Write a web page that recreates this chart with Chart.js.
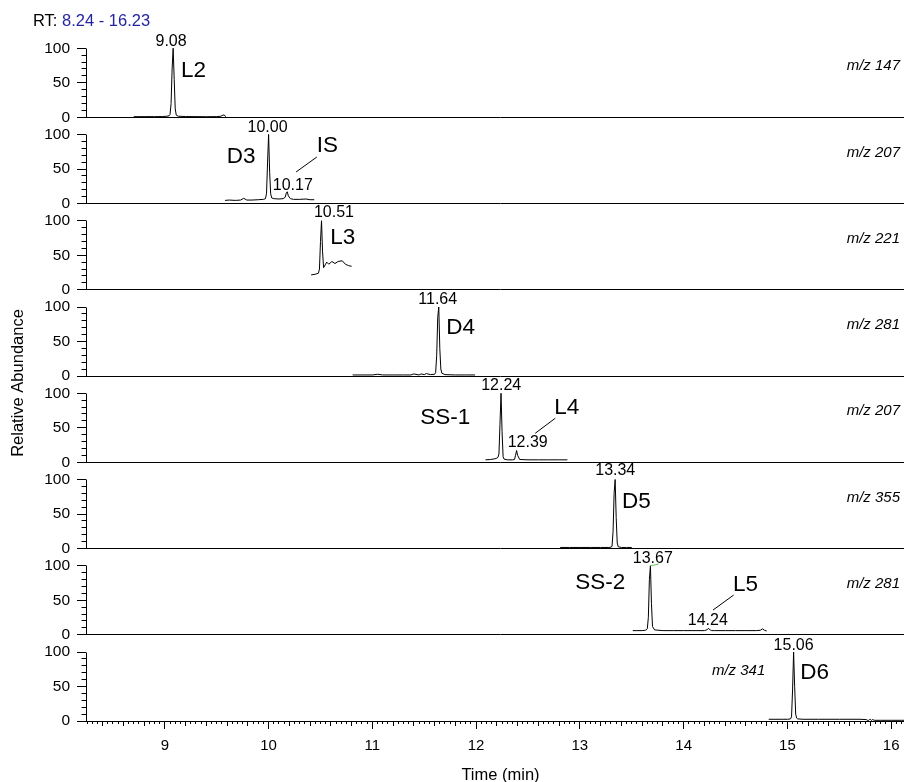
<!DOCTYPE html>
<html>
<head>
<meta charset="utf-8">
<title>Chromatogram</title>
<script src="https://cdn.jsdelivr.net/npm/chart.js@4.4.0/dist/chart.umd.min.js"></script>
<style>
  html, body { margin: 0; padding: 0; background: #fff; overflow: hidden; }
  #wrap { position: relative; width: 915px; height: 782px; }
</style>
</head>
<body>
<div id="wrap"><canvas id="chrom"></canvas></div>
<script>
// retention time window and axis ticks
const rtRange = [8.24, 16.23];
const timeTicks = [9, 10, 11, 12, 13, 14, 15, 16];
const abundanceTicks = [0, 50, 100];
const ions = ["m/z 147", "m/z 207", "m/z 221", "m/z 281", "m/z 207", "m/z 355", "m/z 281", "m/z 341"];

// one trace per ion window (time in min, relative abundance %)
const time147 = [8.70, 8.80, 8.90, 8.98, 9.02, 9.04, 9.05, 9.06, 9.07, 9.08, 9.09, 9.10, 9.11, 9.13, 9.20, 9.30, 9.40, 9.50, 9.54, 9.56, 9.57, 9.58, 9.59];
const abund147 = [0.8, 0.9, 0.9, 1.0, 1.5, 2.0, 4, 20, 70, 100, 55, 12, 3, 1.5, 1.0, 0.9, 0.8, 0.9, 1.5, 3.0, 3.5, 2, 0.8];

const time207a = [9.58, 9.62, 9.68, 9.73, 9.76, 9.79, 9.84, 9.90, 9.95, 9.97, 9.98, 9.99, 10.00, 10.01, 10.02, 10.03, 10.05, 10.10, 10.14, 10.16, 10.17, 10.18, 10.19, 10.21, 10.24, 10.30, 10.36, 10.40, 10.44];
const abund207a = [4.5, 5, 4.5, 5, 7.5, 5, 5, 5.5, 6, 7, 15, 60, 100, 45, 14, 8, 7, 6.5, 7, 9, 15, 17, 11, 7, 6, 6, 6.5, 5.5, 5.5];

const time221 = [10.41, 10.45, 10.48, 10.49, 10.50, 10.51, 10.52, 10.53, 10.545, 10.56, 10.58, 10.61, 10.64, 10.67, 10.71, 10.74, 10.77, 10.80];
const abund221 = [21.5, 22.5, 24, 30, 70, 100, 55, 32, 36, 40, 37, 41, 38, 41, 42, 37, 35, 34];

const time281a = [10.81, 10.90, 11.00, 11.05, 11.10, 11.20, 11.30, 11.37, 11.40, 11.45, 11.47, 11.50, 11.52, 11.56, 11.60, 11.61, 11.62, 11.63, 11.64, 11.65, 11.66, 11.67, 11.70, 11.80, 11.90, 11.99];
const abund281a = [1.5, 1.5, 1.5, 2.5, 1.5, 1.5, 1.5, 1.5, 3, 1.5, 3, 2, 3.5, 2, 2.5, 5, 30, 85, 100, 40, 10, 4, 2, 1.5, 1.5, 1.5];

const time207b = [12.09, 12.14, 12.18, 12.20, 12.21, 12.22, 12.23, 12.24, 12.25, 12.26, 12.27, 12.30, 12.35, 12.37, 12.38, 12.39, 12.40, 12.42, 12.50, 12.60, 12.70, 12.80, 12.88];
const abund207b = [3.5, 4, 5, 6, 7, 12, 55, 100, 45, 8, 4.5, 3.5, 3.5, 4, 10, 17, 10, 4, 3.5, 3.5, 3.5, 3.5, 3.5];

const time355 = [12.81, 12.90, 13.00, 13.10, 13.20, 13.28, 13.30, 13.31, 13.32, 13.33, 13.34, 13.35, 13.36, 13.37, 13.40, 13.45, 13.50];
const abund355 = [1.5, 1.5, 1.5, 1.5, 1.5, 1.5, 2, 3, 25, 80, 100, 45, 8, 2.5, 1.5, 1.5, 1.5];

const time281b = [13.51, 13.55, 13.60, 13.63, 13.64, 13.65, 13.66, 13.67, 13.68, 13.69, 13.70, 13.72, 13.80, 13.90, 14.00, 14.10, 14.20, 14.23, 14.24, 14.25, 14.27, 14.30, 14.40, 14.50, 14.60, 14.70, 14.74, 14.76, 14.78, 14.80];
const abund281b = [6, 6, 6, 6.5, 7, 9, 25, 80, 100, 45, 12, 7, 6, 6, 6, 6, 6, 7.5, 9.5, 7.5, 6, 6, 6, 6, 6, 6, 6.5, 8.5, 6.5, 5.5];

const time341 = [14.82, 14.90, 14.95, 15.00, 15.03, 15.04, 15.05, 15.06, 15.07, 15.08, 15.09, 15.10, 15.15, 15.30, 15.50, 15.70, 15.76, 15.78, 15.79, 15.80, 15.81, 15.82, 15.84, 15.90, 16.00, 16.10, 16.20, 16.23];
const abund341 = [2.5, 2.5, 2.5, 2.5, 3, 6, 45, 100, 50, 10, 4, 3, 2.5, 2.5, 2.5, 2.5, 2, 0.5, 2, 2.5, 0.8, 2, 1, 1, 1, 1, 1, 1];

const traces = [
  [time147, abund147], [time207a, abund207a], [time221, abund221], [time281a, abund281a],
  [time207b, abund207b], [time355, abund355], [time281b, abund281b], [time341, abund341],
];

// labels: [panel, time, abundance, text]
const peakLabels = [
  [0, 9.06, 103, "9.08"], [1, 9.99, 104, "10.00"], [1, 10.233, 19.6, "10.17"],
  [2, 10.63, 106, "10.51"], [3, 11.63, 105, "11.64"], [4, 12.242, 105, "12.24"],
  [4, 12.497, 22.6, "12.39"], [5, 13.341, 106, "13.34"], [6, 13.703, 104, "13.67"],
  [6, 14.233, 14, "14.24"], [7, 15.06, 103, "15.06"],
];
const compoundLabels = [
  [0, 9.156, 58.4, "L2", "left"], [1, 9.597, 59.1, "D3", "left"], [1, 10.465, 74.6, "IS", "left"],
  [2, 10.593, 65.9, "L3", "left"], [3, 11.712, 60.4, "D4", "left"], [4, 11.943, 55.5, "SS-1", "right"],
  [4, 12.753, 69.6, "L4", "left"], [5, 13.406, 58.3, "D5", "left"], [6, 13.438, 66.2, "SS-2", "right"],
  [6, 14.476, 63.3, "L5", "left"], [7, 15.125, 60.4, "D6", "left"],
];
const leaders = [
  [1, 10.465, 67.4, 10.265, 45.7],
  [4, 12.763, 63.8, 12.570, 42],
  [6, 14.482, 57.5, 14.283, 35.8],
];

const FONT = "'Liberation Sans', Arial, Helvetica, sans-serif";

const decor = {
  id: "decor",
  afterDraw(chart) {
    const { ctx, chartArea: area } = chart;
    const px = (t) => chart.scales.x.getPixelForValue(t);
    const py = (p, v) => chart.scales["y" + p].getPixelForValue(v);
    const al = (v) => Math.round(v - 0.5) + 0.5;
    ctx.save();
    ctx.strokeStyle = "#000";
    ctx.lineWidth = 1;
    ctx.beginPath();
    ions.forEach((ion, p) => {
      const y0 = al(py(p, 0));
      const xl = al(area.left);
      ctx.moveTo(area.left, y0);
      ctx.lineTo(area.right, y0);
      ctx.moveTo(xl, y0);
      ctx.lineTo(xl, al(py(p, 100)));
      for (let v = 10; v < 100; v += 10) {
        if (v === 50) continue;
        const y = al(py(p, v));
        ctx.moveTo(xl - 5, y);
        ctx.lineTo(xl, y);
      }
    });
    for (let k = Math.ceil(rtRange[0] * 20); k <= Math.floor(rtRange[1] * 20); k++) {
      if (k % 20 === 0) continue;
      const x = al(px(k / 20));
      const len = k % 4 === 0 ? 5 : 3;
      ctx.moveTo(x, area.bottom);
      ctx.lineTo(x, area.bottom + len);
    }
    leaders.forEach(([p, t1, v1, t2, v2]) => {
      ctx.moveTo(px(t1), py(p, v1));
      ctx.lineTo(px(t2), py(p, v2));
    });
    ctx.stroke();

    // small green marker on the 13.67 apex
    ctx.strokeStyle = "#5cc85c";
    ctx.beginPath();
    ctx.moveTo(px(13.68), py(6, 100));
    ctx.lineTo(px(13.76), py(6, 102.5));
    ctx.stroke();

    ctx.fillStyle = "#000";
    ctx.textBaseline = "alphabetic";
    ctx.font = "16px " + FONT;
    ctx.textAlign = "center";
    peakLabels.forEach(([p, t, v, s]) => ctx.fillText(s, px(t), py(p, v)));

    ctx.font = "22.5px " + FONT;
    compoundLabels.forEach(([p, t, v, s, a]) => {
      ctx.textAlign = a;
      ctx.fillText(s, px(t), py(p, v));
    });

    ctx.font = "italic 15px " + FONT;
    ctx.textAlign = "right";
    ions.forEach((ion, p) => {
      if (p === ions.length - 1) ctx.fillText(ion, px(14.787), py(p, 66.7));
      else ctx.fillText(ion, 900, py(p, 68));
    });

    // header
    ctx.font = "16.5px " + FONT;
    ctx.textAlign = "left";
    ctx.fillText("RT: ", 33, 25.5);
    const w = ctx.measureText("RT: ").width;
    ctx.fillStyle = "#2424a3";
    ctx.fillText(rtRange[0].toFixed(2) + " - " + rtRange[1].toFixed(2), 33 + w, 25.5);

    // axis titles
    ctx.fillStyle = "#000";
    ctx.font = "16.5px " + FONT;
    ctx.textAlign = "center";
    ctx.textBaseline = "middle";
    ctx.fillText("Time (min)", (area.left + area.right) / 2, 775);
    ctx.translate(18, 383);
    ctx.rotate(-Math.PI / 2);
    ctx.fillText("Relative Abundance", 0, 0);
    ctx.restore();
  },
};

const scales = {
  x: {
    type: "linear",
    position: "bottom",
    min: rtRange[0],
    max: rtRange[1],
    afterBuildTicks: (s) => { s.ticks = timeTicks.map((v) => ({ value: v })); },
    afterFit: (s) => { s.height = 61; },
    grid: { drawOnChartArea: false, tickLength: 8, tickColor: "#000", tickWidth: 1 },
    border: { display: true, color: "#000", width: 1 },
    ticks: { color: "#000", font: { family: FONT, size: 15 }, padding: 8, maxRotation: 0, autoSkip: false },
  },
};
ions.forEach((ion, i) => {
  scales["y" + i] = {
    type: "linear",
    position: "left",
    stack: "panels",
    stackWeight: 1,
    weight: ions.length - i,
    min: 0,
    max: 125,
    afterBuildTicks: (s) => { s.ticks = abundanceTicks.map((v) => ({ value: v })); },
    afterFit: (s) => { s.width = 86; },
    border: { display: false },
    grid: { drawOnChartArea: false, tickLength: 9, tickColor: "#000", tickWidth: 1 },
    ticks: { color: "#000", font: { family: FONT, size: 15.5 }, padding: 7, autoSkip: false },
  };
});

new Chart(document.getElementById("chrom"), {
  type: "line",
  data: {
    datasets: traces.map(([times, abund], i) => ({
      label: ions[i],
      data: times.map((t, k) => ({ x: t, y: abund[k] })),
      xAxisID: "x",
      yAxisID: "y" + i,
      borderColor: "#000",
      borderWidth: 1,
      pointRadius: 0,
      tension: 0,
      fill: false,
    })),
  },
  options: {
    responsive: true,
    maintainAspectRatio: false,
    animation: false,
    devicePixelRatio: 1,
    layout: { padding: { top: 31, left: 0, right: 0, bottom: 0 } },
    plugins: { legend: { display: false }, tooltip: { enabled: false } },
    scales: scales,
  },
  plugins: [decor],
});
</script>
</body>
</html>
